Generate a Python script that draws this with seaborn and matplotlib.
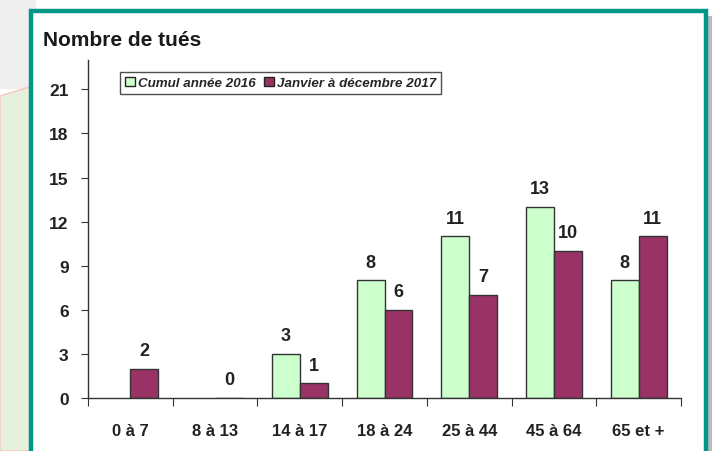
import numpy as np
import pandas as pd
import matplotlib
matplotlib.use("Agg")
import matplotlib.pyplot as plt
import seaborn as sns
from matplotlib.patches import Rectangle, Polygon

# valeurs
tranches = ["0 à 7", "8 à 13", "14 à 17", "18 à 24", "25 à 44", "45 à 64", "65 et +"]
tues_2016 = [np.nan, np.nan, 3, 8, 11, 13, 8]
tues_2017 = [2, 0, 1, 6, 7, 10, 11]
series = ["Cumul année 2016", "Janvier à décembre 2017"]
couleurs = ["#CCFFCC", "#993366"]
yticks = [0, 3, 6, 9, 12, 15, 18, 21]

dados = pd.DataFrame({
    "Tranche": tranches * 2,
    "Serie": [series[0]] * 7 + [series[1]] * 7,
    "Tues": tues_2016 + tues_2017,
})

sns.set_style("ticks")
plt.rcParams["font.family"] = ["Liberation Sans", "DejaVu Sans"]
plt.rcParams["font.weight"] = "bold"

fig = plt.figure(figsize=(7.24, 4.52), dpi=100)
fig.patch.set_facecolor("white")

# fond hors cadre (à gauche)
fig.patches.append(Rectangle((0, 1 - 90 / 452), 0.05, 90 / 452, transform=fig.transFigure,
                             facecolor="#EFEFEF", edgecolor="none", zorder=0))
fig.patches.append(Polygon([(0, 0), (0, 1 - 97 / 452), (0.05, 1 - 86 / 452), (0.05, 0)],
                           closed=True, transform=fig.transFigure,
                           facecolor="#E6F1DD", edgecolor="#F4C4C4", lw=1.0, zorder=0))
# ombre et cadre
fig.patches.append(Rectangle((35 / 724, -0.1), 677 / 724, 1.1 - 17 / 452, transform=fig.transFigure,
                             facecolor="#8C8C8C", edgecolor="none", alpha=0.6, zorder=1))
fig.patches.append(Rectangle((31 / 724, -0.1), 675 / 724, 1.1 - 12 / 452, transform=fig.transFigure,
                             facecolor="white", edgecolor="#009688", lw=3.2, zorder=2))

ax = fig.add_axes([88 / 724, 53 / 452, 593 / 724, 338 / 452])
ax.set_zorder(3)
ax.patch.set_alpha(0)

sns.barplot(data=dados, x="Tranche", y="Tues", hue="Serie", order=tranches,
            hue_order=series, palette=couleurs, width=0.66, edgecolor="#333333",
            linewidth=1.0, saturation=1, ax=ax, legend=True)

for cont in ax.containers:
    ax.bar_label(cont, fmt="%g", padding=7, fontsize=13, fontweight="bold", color="#222222")

ax.set_ylim(0, 23)
ax.set_xlim(-0.5, 6.5)
ax.set_yticks(yticks)
ax.set_yticklabels([str(v) for v in yticks], fontsize=12.5, fontweight="bold", color="#222222")
ax.set_xticks(np.arange(-0.5, 7, 1))
ax.set_xticklabels([])
ax.set_xticks(np.arange(7), minor=True)
ax.set_xticklabels(tranches, minor=True, fontsize=12, fontweight="bold", color="#222222")
ax.tick_params(axis="x", which="minor", length=0, pad=18)
ax.tick_params(axis="x", which="major", length=6, direction="out", color="#333333")
ax.tick_params(axis="y", length=5, direction="out", color="#333333", pad=9)
ax.set_xlabel("")
ax.set_ylabel("")
sns.despine(ax=ax)
for s in ["left", "bottom"]:
    ax.spines[s].set_color("#333333")
    ax.spines[s].set_linewidth(1.0)

ax.legend(loc="upper left", bbox_to_anchor=(120 / 724, 1 - 73 / 452),
          bbox_transform=fig.transFigure, ncol=2, frameon=True, fancybox=False,
          edgecolor="#222222", handlelength=0.75, handleheight=0.75, handletextpad=0.25,
          columnspacing=0.6, borderpad=0.35, borderaxespad=0,
          prop={"size": 9.6, "weight": "bold", "style": "italic"})
leg = ax.get_legend()
leg.get_frame().set_linewidth(1.0)
for h in leg.legend_handles:
    h.set_edgecolor("#222222")

fig.text(43 / 724, 1 - 40 / 452, "Nombre de tués", fontsize=15, fontweight="bold",
         color="#1A1A1A", va="center", ha="left", zorder=5)

fig.savefig("out.png", dpi=100, facecolor=fig.get_facecolor())
